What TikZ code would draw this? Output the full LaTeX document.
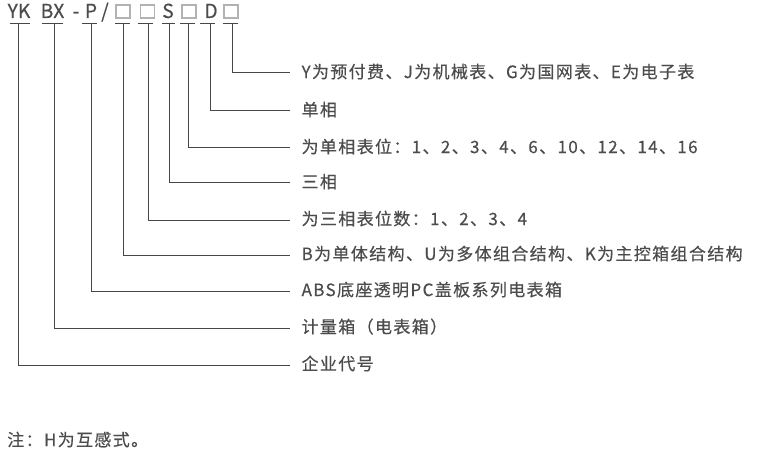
\documentclass[tikz,border=0pt]{standalone}
\usepackage{fontspec}
\setmainfont{Noto Sans CJK SC}
\newfontfamily\desc[LetterSpace=8,FakeBold=0.4]{Noto Sans CJK SC}
\newfontfamily\ttlfont[FakeBold=0.4]{Noto Sans CJK SC}
\begin{document}
\begin{tikzpicture}[x=0.75pt,y=-0.75pt,
  txt/.style={text=black!70},
  ttl/.style={txt,font=\ttlfont\fontsize{14.5pt}{16pt}\selectfont,anchor=base,inner sep=0pt},
  bx/.style={draw=black!30,line width=0.8pt,inner sep=0pt,minimum width=10.5pt,minimum height=9.75pt},
  dsc/.style={txt,font=\desc\fontsize{12.75pt}{15pt}\selectfont,anchor=west,inner xsep=8.5pt,inner ysep=0pt,text height=0.88em,text depth=0.12em},
  ln/.style={draw=black!72,line width=0.75pt},
]
\useasboundingbox (0,0) rectangle (759,452);
% title
\node[ttl] (t1) at (19,18) {YK};
\node[ttl] (t2) at (52.5,18) {BX};
\node[ttl] (dash) at (76,18) {-};
\node[ttl] (t3) at (91,18) {P};
\node[ttl] (sl) at (105,18) {/};
\node[bx] (t4) at (123,11.5) {};
\node[bx] (t5) at (147.5,11.5) {};
\node[ttl] (t6) at (168,18) {S};
\node[bx] (t7) at (189,11.5) {};
\node[ttl] (t8) at (211,18) {D};
\node[bx] (t9) at (231,11.5) {};
% underlines
\foreach \a/\b in {10/30,42/63,82/97,115/130,138/153,162/175,180/195,200/215,223/238}
  \draw[ln] (\a,24) -- (\b,24);
% tap coordinates
\coordinate (v1) at (18,24);
\coordinate (v2) at (54,24);
\coordinate (v3) at (91,24);
\coordinate (v4) at (123,24);
\coordinate (v5) at (148,24);
\coordinate (v6) at (169,24);
\coordinate (v7) at (188,24);
\coordinate (v8) at (210,24);
\coordinate (v9) at (232,24);
% descriptions
\node[dsc] (d9) at (290,73) {Y为预付费、J为机械表、G为国网表、E为电子表};
\node[dsc] (d8) at (290,111) {单相};
\node[dsc] (d7) at (290,148) {为单相表位：1、2、3、4、6、10、12、14、16};
\node[dsc] (d6) at (290,183) {三相};
\node[dsc] (d5) at (290,220) {为三相表位数：1、2、3、4};
\node[dsc] (d4) at (290,255) {B为单体结构、U为多体组合结构、K为主控箱组合结构};
\node[dsc] (d3) at (290,291) {ABS底座透明PC盖板系列电表箱};
\node[dsc] (d2) at (290,328) {计量箱（电表箱）};
\node[dsc] (d1) at (290,365) {企业代号};
\foreach \i in {1,...,9}
  \draw[ln] (v\i) |- (d\i.west);
% note
\node[dsc,inner xsep=0pt] (note) at (7,441) {注：H为互感式。};
\end{tikzpicture}
\end{document}
